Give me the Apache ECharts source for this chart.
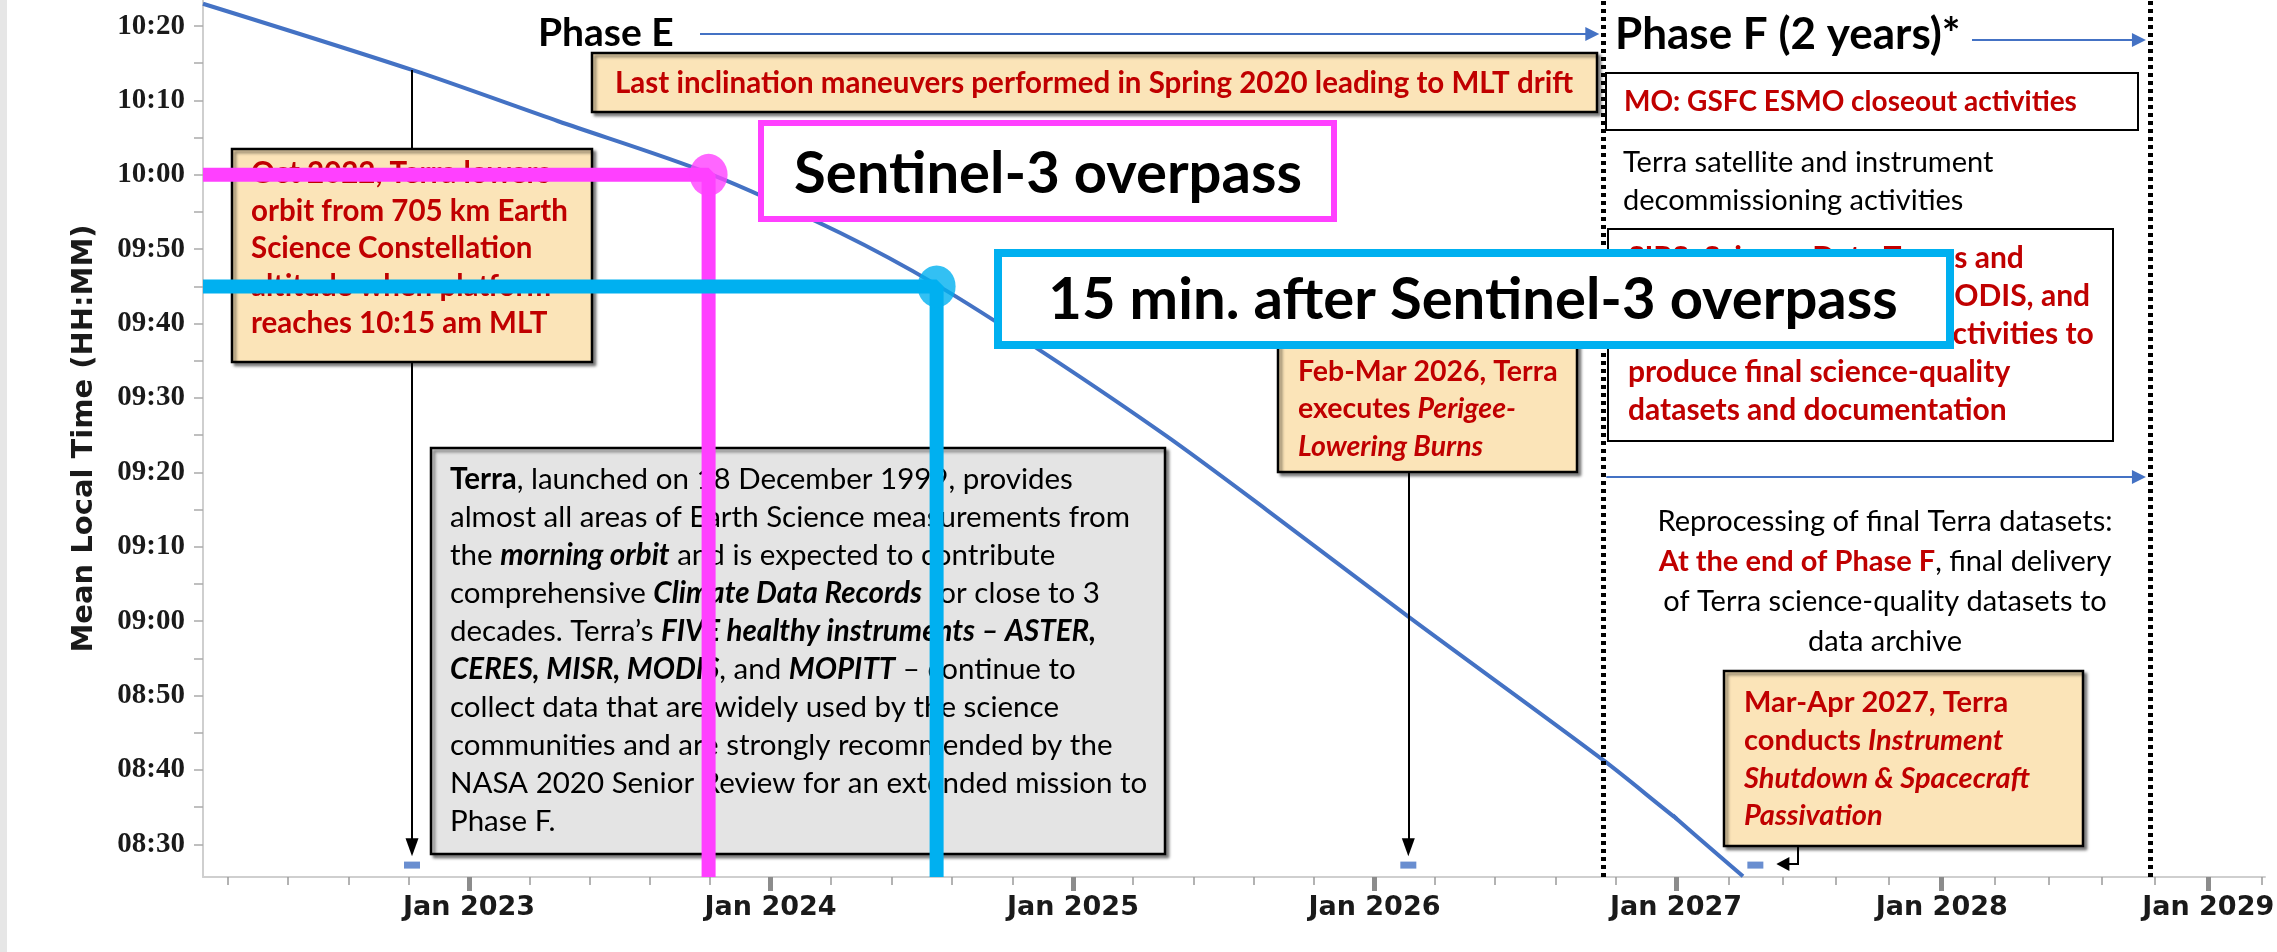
<!DOCTYPE html>
<html>
<head>
<meta charset="utf-8">
<title>Terra MLT drift</title>
<script src="https://cdn.jsdelivr.net/npm/echarts@6.0.0/dist/echarts.min.js"></script>
<style>
    html, body { margin: 0; padding: 0; background: #ffffff; }
    #main { width: 2277px; height: 952px; }
</style>
</head>
<body>
<div id="main"></div>
<script>
(function () {
    'use strict';

    /* ---------- values ---------- */
    // Terra mean local time (minutes after midnight) along the drift
    var curveDates = ['2022-02-13', '2022-10-24', '2023-04-19', '2023-10-18', '2024-03-25', '2024-07-20',
        '2024-11-25', '2025-04-24', '2025-08-23', '2026-02-11', '2026-10-05', '2027-01-01', '2027-04-03'];
    var curveMLT = [623.0, 614.1, 607.2, 600.2, 592.2, 585.2, 576.2, 564.9, 555.0, 540.6, 521.3, 513.5, 505.7];

    // tick labels
    var yTickLabels = ['08:30', '08:40', '08:50', '09:00', '09:10', '09:20', '09:30', '09:40', '09:50', '10:00', '10:10', '10:20'];
    var yearLabelsA = [2023, 2024, 2025, 2026];
    var yearLabelsB = [2027, 2028, 2029];

    // axis extents (the Phase F part of the figure has its own, tighter time scale)
    var rangeA = ['2022-02-13', '2027-01-01'];
    var rangeB = ['2027-01-01', '2029-03-20'];
    var mltRange = [505.6, 623.5];

    // Sentinel-3 overpass, and 15 minutes after it
    var overpassDates = ['2023-10-18', '2024-07-20'];
    var overpassMLT = [600, 585];

    // small event markers just above the time axis
    var eventDatesA = ['2022-10-24', '2026-02-11'];
    var eventDatesB = ['2027-04-20'];
    var eventMLT = 507.2;

    // arrows from the notes down to the markers
    var arrowDates = ['2022-10-24', '2026-02-11'];
    var arrowFromMLT = [614.1, 565];
    var arrowToMLT = 509.6;

    // phase boundaries
    var phaseEEnd = '2026-10-05';
    var phaseFEnd = '2028-10-13';

    /* ---------- helpers ---------- */
    var FONT = 'Lato';
    var RED = '#C00000';
    var TAN = '#FBE4B8';
    var BLUE = '#4472C4';
    var PINK = '#FF40FF';
    var CYAN = '#00B0F0';

    function ts(s) {
        var p = s.split('-');
        return new Date(+p[0], +p[1] - 1, +p[2]).getTime();
    }
    function hhmm(s) {
        var p = s.split(':');
        return +p[0] * 60 + +p[1];
    }
    function fmtMLT(v) {
        var h = Math.floor(v / 60), m = Math.round(v - h * 60);
        return (h < 10 ? '0' : '') + h + ':' + (m < 10 ? '0' : '') + m;
    }
    function pairs(dates, vals) {
        return dates.map(function (d, i) {
            return [ts(d), Array.isArray(vals) ? vals[i] : vals];
        });
    }
    function minorTicks(range) {
        var lo = ts(range[0]), hi = ts(range[1]), out = [];
        for (var y = new Date(lo).getFullYear(); y <= new Date(hi).getFullYear(); y++) {
            var a = ts(y + '-01-01'), b = ts((y + 1) + '-01-01');
            for (var k = 1; k < 5; k++) {
                var v = a + (b - a) * k / 5;
                if (v > lo && v < hi) out.push(v);
            }
        }
        return out;
    }

    var yLabelVals = yTickLabels.map(hhmm);
    var yTickVals = [];
    yLabelVals.forEach(function (v) {
        if (v - 5 >= mltRange[0] && yTickVals.indexOf(v - 5) < 0) yTickVals.push(v - 5);
        yTickVals.push(v);
        if (v + 5 <= mltRange[1]) yTickVals.push(v + 5);
    });

    // dates are kept as timestamps on a plain value axis so custom tick positions can be used
    function majorAxis(grid, range, years) {
        var vals = years.map(function (y) { return ts(y + '-01-01'); });
        return {
            type: 'value', gridIndex: grid, position: 'bottom',
            min: ts(range[0]), max: ts(range[1]),
            axisLine: { show: true, onZero: false, lineStyle: { color: '#cfcfcf', width: 2 } },
            axisTick: { show: true, customValues: vals, length: 14, lineStyle: { color: '#8c8c8c', width: 5 } },
            axisLabel: {
                show: true, customValues: vals, margin: 17,
                formatter: function (v) { return 'Jan ' + new Date(v).getFullYear(); },
                fontFamily: 'DejaVu Sans', fontWeight: 'bold', fontSize: 27, color: '#1a1a1a'
            },
            splitLine: { show: false }
        };
    }
    function minorAxis(grid, range) {
        return {
            type: 'value', gridIndex: grid, position: 'bottom',
            min: ts(range[0]), max: ts(range[1]),
            axisLine: { show: false, onZero: false },
            axisTick: { show: true, customValues: minorTicks(range), length: 8, lineStyle: { color: '#9a9a9a', width: 1.5 } },
            axisLabel: { show: false },
            splitLine: { show: false }
        };
    }

    function curveSeries(xi, yi, extra) {
        var s = {
            name: 'MLT', type: 'line', xAxisIndex: xi, yAxisIndex: yi,
            data: pairs(curveDates, curveMLT), smooth: 0.3, showSymbol: false, clip: true,
            lineStyle: { color: BLUE, width: 4 }, z: 2, silent: true
        };
        return Object.assign(s, extra || {});
    }
    function eventSeries(xi, yi, dates, boundary) {
        return {
            name: 'events', type: 'scatter', xAxisIndex: xi, yAxisIndex: yi,
            data: pairs(dates, eventMLT), symbol: 'rect', symbolSize: [16, 7],
            itemStyle: { color: BLUE }, z: 3, silent: true,
            markLine: {
                silent: true, symbol: 'none', label: { show: false }, animation: false,
                lineStyle: { color: '#000', width: 5, type: [4, 4] },
                emphasis: { disabled: true },
                data: [{ xAxis: ts(boundary) }]
            }
        };
    }
    function overpassSeries(i, color) {
        return [{
            name: 'overpass' + i, type: 'line', xAxisIndex: 0, yAxisIndex: 0,
            data: [[ts(rangeA[0]), overpassMLT[i]], [ts(overpassDates[i]), overpassMLT[i]], [ts(overpassDates[i]), mltRange[0]]],
            showSymbol: false, lineStyle: { color: color, width: 14, cap: 'butt' }, z: 10 + i, silent: true
        }, {
            name: 'overpassDot' + i, type: 'scatter', xAxisIndex: 0, yAxisIndex: 0,
            data: [[ts(overpassDates[i]), overpassMLT[i]]], symbol: 'circle', symbolSize: [38, 42],
            itemStyle: { color: color }, z: 12 + i, silent: true
        }];
    }

    var chart = echarts.init(document.getElementById('main'));

    var option = {
        backgroundColor: '#ffffff',
        animation: false,
        grid: [
            { left: 203, right: 2277 - 1676, top: 0, bottom: 75, containLabel: false, outerBoundsMode: 'none' },
            { left: 1676, right: 12, top: 0, bottom: 75, containLabel: false, outerBoundsMode: 'none' }
        ],
        xAxis: [
            majorAxis(0, rangeA, yearLabelsA),
            minorAxis(0, rangeA),
            majorAxis(1, rangeB, yearLabelsB),
            minorAxis(1, rangeB)
        ],
        yAxis: [{
            type: 'value', gridIndex: 0, min: mltRange[0], max: mltRange[1],
            name: 'Mean Local Time (HH:MM)', nameLocation: 'middle', nameRotate: 90, nameGap: 104,
            nameTextStyle: { fontFamily: 'DejaVu Sans', fontWeight: 'bold', fontSize: 29, color: '#1a1a1a' },
            axisLine: { show: true, onZero: false, lineStyle: { color: '#cfcfcf', width: 2 } },
            axisTick: { show: true, customValues: yTickVals, length: 9, lineStyle: { color: '#aaaaaa', width: 1.5 } },
            axisLabel: {
                show: true, customValues: yLabelVals, formatter: fmtMLT, margin: 18,
                fontFamily: 'Liberation Serif', fontWeight: 'bold', fontSize: 29, color: '#1a1a1a'
            },
            splitLine: { show: false }
        }, {
            type: 'value', gridIndex: 1, min: mltRange[0], max: mltRange[1], show: false,
            splitLine: { show: false }
        }],
        series: [
            curveSeries(0, 0, {
                markLine: {
                    silent: true, symbol: ['none', 'triangle'], symbolSize: [13, 18], animation: false,
                    label: { show: false }, emphasis: { disabled: true },
                    lineStyle: { color: '#000', width: 2, type: 'solid' },
                    data: arrowDates.map(function (d, i) {
                        return [{ coord: [ts(d), arrowFromMLT[i]] }, { coord: [ts(d), arrowToMLT] }];
                    })
                }
            }),
            curveSeries(2, 1),
            eventSeries(0, 0, eventDatesA, phaseEEnd),
            eventSeries(2, 1, eventDatesB, phaseFEnd)
        ].concat(overpassSeries(0, PINK), overpassSeries(1, CYAN))
    };
    chart.setOption(option);

    /* ---------- notes and labels ---------- */
    function box(x, y, w, h, fill, stroke, lw, shadow, z) {
        return {
            type: 'rect', z: z || 5, silent: true,
            shape: { x: x, y: y, width: w, height: h },
            style: {
                fill: fill, stroke: stroke, lineWidth: lw,
                shadowBlur: shadow ? 3 : 0, shadowOffsetX: shadow ? 3 : 0, shadowOffsetY: shadow ? 3 : 0,
                shadowColor: 'rgba(0,0,0,0.45)'
            }
        };
    }
    function note(x, y, lines, o) {
        var size = o.size, lh = o.lh || Math.round(size * 1.28), weight = o.weight || 'normal';
        var color = o.color || '#000', r = {};
        Object.keys(o.rich || {}).forEach(function (k) {
            r[k] = Object.assign({ fontFamily: FONT, fontSize: size, fontWeight: weight, lineHeight: lh, fill: color }, o.rich[k]);
        });
        return {
            type: 'text', x: x, y: y, z: o.z || 7, silent: true,
            style: {
                text: lines.join('\n'), fontFamily: FONT, fontSize: size, fontWeight: weight, fill: color,
                lineHeight: lh, align: o.align || 'left', verticalAlign: o.valign || 'top', rich: r
            }
        };
    }
    function arrowRight(x1, x2, y, color, lw, head) {
        return [{
            type: 'line', z: 6, silent: true,
            shape: { x1: x1, y1: y, x2: x2 - head + 1, y2: y },
            style: { stroke: color, lineWidth: lw }
        }, {
            type: 'polygon', z: 6, silent: true,
            shape: { points: [[x2, y], [x2 - head, y - head * 0.5], [x2 - head, y + head * 0.5]] },
            style: { fill: color }
        }];
    }

    var xE = chart.convertToPixel({ xAxisIndex: 0 }, ts(phaseEEnd));
    var xF = chart.convertToPixel({ xAxisIndex: 2 }, ts(phaseFEnd));
    var dashB = chart.convertToPixel({ seriesIndex: 3 }, pairs(eventDatesB, eventMLT)[0]);
    var tipX = dashB[0] + 21, tipY = dashB[1] - 1;

    var italic = { i: { fontStyle: 'italic' } };
    var grayRich = { b: { fontWeight: 'bold' }, bi: { fontWeight: 'bold', fontStyle: 'italic' } };

    var graphic = [
        // thin grey strip at the left border of the screenshot
        { type: 'rect', z: 30, silent: true, shape: { x: 0, y: 0, width: 7, height: 952 }, style: { fill: '#e6e6e6' } },

        // Phase E
        note(538, 33, ['Phase E'], { size: 39, weight: 'bold', valign: 'middle' }),
        box(592, 53, 1005, 59, TAN, '#000', 2.5, true),
        note(1094, 83, ['Last inclination maneuvers performed in Spring 2020 leading to MLT drift'],
            { size: 29.5, weight: 'bold', color: RED, align: 'center', valign: 'middle' }),

        box(232, 149, 360, 213, TAN, '#000', 2.5, true),
        note(251, 155, ['Oct 2022, Terra lowers', 'orbit from 705 km Earth', 'Science Constellation',
            'altitude when platform', 'reaches 10:15 am MLT'], { size: 29.5, lh: 37.5, weight: 'bold', color: RED }),

        box(431, 448, 734, 406, '#E4E4E4', '#000', 2.5, true),
        note(450, 460, [
            '{b|Terra}, launched on 18 December 1999, provides',
            'almost all areas of Earth Science measurements from',
            'the {bi|morning orbit} and is expected to contribute',
            'comprehensive {bi|Climate Data Records} for close to 3',
            'decades. Terra\u2019s {bi|FIVE healthy instruments \u2013 ASTER,}',
            '{bi|CERES, MISR, MODIS}, and {bi|MOPITT} \u2013 continue to',
            'collect data that are widely used by the science',
            'communities and are strongly recommended by the',
            'NASA 2020 Senior Review for an extended mission to',
            'Phase F.'
        ], { size: 29.5, lh: 38, color: '#000', rich: grayRich }),

        box(1278, 338, 299, 134, TAN, '#000', 2.5, true),
        note(1298, 353, ['Feb-Mar 2026, Terra', 'executes {i|Perigee-}', '{i|Lowering Burns}'],
            { size: 28.5, lh: 37.5, weight: 'bold', color: RED, rich: italic }),

        // Phase F
        note(1615, 35, ['Phase F (2 years)*'], { size: 44, weight: 'bold', valign: 'middle' }),
        box(1606, 73, 532, 57, '#fff', '#000', 2),
        note(1624, 102, ['MO: GSFC ESMO closeout activities'], { size: 28, weight: 'bold', color: RED, valign: 'middle' }),
        note(1623, 144, ['Terra satellite and instrument', 'decommissioning activities'], { size: 29, lh: 38 }),
        box(1608, 229, 505, 212, '#fff', '#000', 2),
        note(1628, 239, ['SIPS: Science Data Teams and', 'ASTER, CERES, MISR, MODIS, and',
            'MOPITT final closeout activities to', 'produce final science-quality', 'datasets and documentation'],
            { size: 30, lh: 38, weight: 'bold', color: RED }),
        note(1885, 502, ['Reprocessing of final Terra datasets:', '{r|At the end of Phase F}, final delivery',
            'of Terra science-quality datasets to', 'data archive'],
            { size: 29, lh: 40, align: 'center', rich: { r: { fontWeight: 'bold', fill: RED } } }),

        box(1724, 671, 359, 175, TAN, '#000', 2.5, true),
        note(1744, 684, ['Mar-Apr 2027, Terra', 'conducts {i|Instrument}', '{i|Shutdown & Spacecraft}', '{i|Passivation}'],
            { size: 29, lh: 37.7, weight: 'bold', color: RED, rich: italic }),
        {
            type: 'polyline', z: 6, silent: true,
            shape: { points: [[1798, 846], [1798, tipY], [tipX + 10, tipY]] },
            style: { stroke: '#000', lineWidth: 2, fill: null }
        },
        {
            type: 'polygon', z: 6, silent: true,
            shape: { points: [[tipX, tipY], [tipX + 13, tipY - 7], [tipX + 13, tipY + 7]] },
            style: { fill: '#000' }
        },

        // overpass labels
        box(761, 123, 573, 96, '#fff', PINK, 6, false, 20),
        note(1048, 174, ['Sentinel-3 overpass'], { size: 58, weight: 'bold', align: 'center', valign: 'middle', z: 21 }),
        box(998, 253, 952, 92, '#fff', CYAN, 8, false, 20),
        note(1473, 300, ['15 min. after Sentinel-3 overpass'], { size: 58, weight: 'bold', align: 'center', valign: 'middle', z: 21 })
    ];
    graphic = graphic
        .concat(arrowRight(700, xE - 4, 34, BLUE, 2, 14))
        .concat(arrowRight(1972, xF - 4, 40, BLUE, 2, 14))
        .concat(arrowRight(xE + 3, xF - 4, 477, BLUE, 2, 14));

    chart.setOption({ graphic: graphic });
})();
</script>
</body>
</html>
